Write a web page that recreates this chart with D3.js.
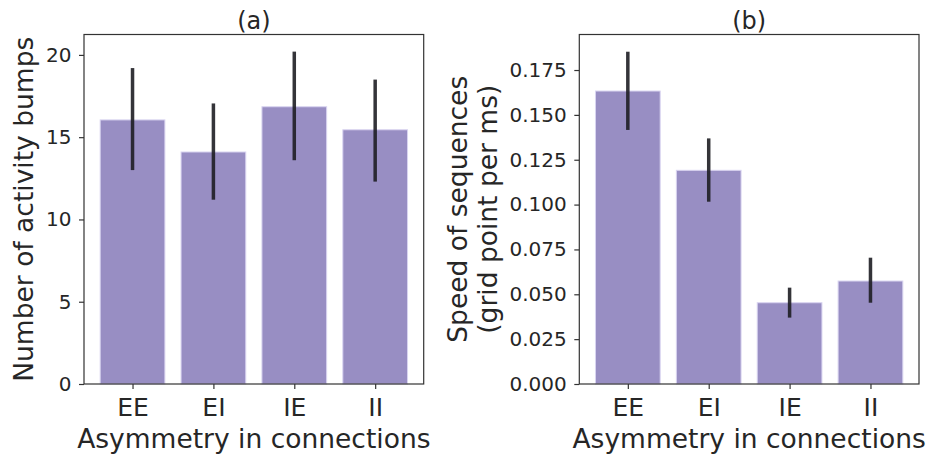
<!DOCTYPE html>
<html>
<head>
<meta charset="utf-8">
<script src="https://cdn.jsdelivr.net/npm/d3@7"></script>
<style>
  html, body { margin: 0; padding: 0; background: #fff; }
  svg { display: block; font-family: "DejaVu Sans", sans-serif; }
</style>
</head>
<body>
<svg id="chart" width="930" height="457"></svg>
<script>
// Connection-asymmetry conditions
const categories = ["EE", "EI", "IE", "II"];

// (a) number of activity bumps: mean and error-bar limits
const bumpsMean = [16.05, 14.1, 16.85, 15.45];
const bumpsLow  = [13.0, 11.2, 13.6, 12.3];
const bumpsHigh = [19.2, 17.05, 20.2, 18.5];
const bumpsTicks = [0, 5, 10, 15, 20];

// (b) speed of sequences: mean and error-bar limits
const speedMean = [0.1633, 0.1191, 0.0453, 0.0574];
const speedLow  = [0.1416, 0.1016, 0.0370, 0.0453];
const speedHigh = [0.1852, 0.1369, 0.0537, 0.0704];
const speedTicks = [0, 0.025, 0.05, 0.075, 0.1, 0.125, 0.15, 0.175];

const svg = d3.select("#chart");
const textColor = "#262626";
const barColor = "#988ec3";

function panel(opts) {
  const { left, right, top, bottom, ymax, mean, low, high, ticks, fmt, title, ylabel, ylabelX } = opts;
  const g = svg.append("g");

  // Band positions follow an index scale with a little margin on each side
  const x = d3.scaleLinear().domain([-0.6, 3.6]).range([left, right]);
  const y = d3.scaleLinear().domain([0, ymax]).range([bottom, top]);
  const barW = x(0.8) - x(0);

  const rows = categories.map((c, i) => ({ c, i, m: mean[i], lo: low[i], hi: high[i] }));

  g.selectAll("rect.bar").data(rows).join("rect")
    .attr("class", "bar")
    .attr("x", d => x(d.i) - barW / 2)
    .attr("width", barW)
    .attr("y", d => y(d.m))
    .attr("height", d => y(0) - y(d.m))
    .attr("fill", barColor)
    .attr("stroke", "#d9d4f0")
    .attr("stroke-width", 1);

  g.selectAll("line.err").data(rows).join("line")
    .attr("class", "err")
    .attr("x1", d => x(d.i)).attr("x2", d => x(d.i))
    .attr("y1", d => y(d.lo)).attr("y2", d => y(d.hi))
    .attr("stroke", "#1e1e24")
    .attr("stroke-opacity", 0.9)
    .attr("stroke-width", 3.5);

  // Y axis
  const yAxis = d3.axisLeft(y).tickValues(ticks).tickFormat(fmt).tickSize(5).tickPadding(7.5);
  const ya = g.append("g").attr("transform", `translate(${left},0)`).call(yAxis);
  ya.select(".domain").remove();
  ya.selectAll(".tick line").attr("stroke", "#333").attr("stroke-width", 1.2);
  ya.selectAll(".tick text").attr("fill", textColor).style("font-size", "20px")
    .style("font-family", "DejaVu Sans");

  // X axis with category labels
  const xAxis = d3.axisBottom(x).tickValues(d3.range(categories.length))
    .tickFormat(i => categories[i]).tickSize(5).tickPadding(9.5);
  const xa = g.append("g").attr("transform", `translate(0,${bottom})`).call(xAxis);
  xa.select(".domain").remove();
  xa.selectAll(".tick line").attr("stroke", "#333").attr("stroke-width", 1.2);
  xa.selectAll(".tick text").attr("fill", textColor).style("font-size", "25px")
    .style("font-family", "DejaVu Sans");

  // Frame
  g.append("rect")
    .attr("x", left).attr("y", top)
    .attr("width", right - left).attr("height", bottom - top)
    .attr("fill", "none").attr("stroke", "#333").attr("stroke-width", 1.2);

  const cx = (left + right) / 2;
  g.append("text").attr("x", cx).attr("y", 28.5).attr("text-anchor", "middle")
    .attr("fill", textColor).style("font-size", "24px").text(title);

  g.append("text").attr("x", cx).attr("y", 448).attr("text-anchor", "middle")
    .attr("fill", textColor).style("font-size", "26.5px").text("Asymmetry in connections");

  const cy = (top + bottom) / 2;
  ylabel.forEach((line, k) => {
    g.append("text")
      .attr("transform", `translate(${ylabelX[k]},${cy}) rotate(-90)`)
      .attr("text-anchor", "middle")
      .attr("fill", textColor).style("font-size", "26.5px").text(line);
  });
}

panel({
  left: 84, right: 423.7, top: 34.5, bottom: 384, ymax: 21.24,
  mean: bumpsMean, low: bumpsLow, high: bumpsHigh,
  ticks: bumpsTicks, fmt: d3.format("d"),
  title: "(a)", ylabel: ["Number of activity bumps"], ylabelX: [33]
});

panel({
  left: 579.3, right: 919, top: 34.5, bottom: 384, ymax: 0.1948,
  mean: speedMean, low: speedLow, high: speedHigh,
  ticks: speedTicks, fmt: d3.format(".3f"),
  title: "(b)", ylabel: ["Speed of sequences", "(grid point per ms)"], ylabelX: [467, 497]
});
</script>
</body>
</html>
